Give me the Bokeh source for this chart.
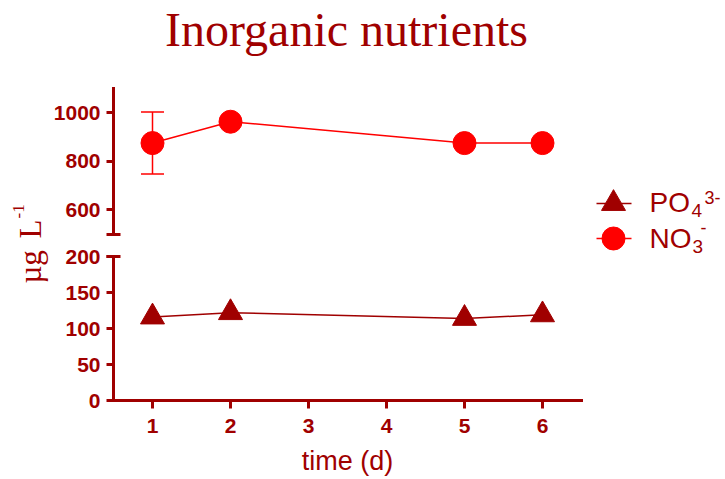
from math import pi
from bokeh.plotting import figure
from bokeh.models import (Range1d, LinearAxis, FixedTicker, Label, Whisker,
                          TeeHead, ColumnDataSource)
from bokeh.embed import file_html
from bokeh.resources import INLINE

# ---------------- data ----------------
days = [1, 2, 5, 6]
no3 = [875, 963, 875, 875]          # NO3- (upper axis segment)
no3_sd = [128, 0, 0, 0]             # error bar (only day 1 visible)
po4 = [116, 122, 114, 119]          # PO4 3- (lower axis segment)
x_ticks = [1, 2, 3, 4, 5, 6]
low_ticks = [0, 50, 100, 150, 200]
up_ticks = [600, 800, 1000]
low_seg = (0, 200)
up_seg = (500, 1100)
title_text = "Inorganic nutrients"
xlabel_text = "time (d)"

DARK = "#A00000"
RED = "#FF0000"

# ---------------- layout constants (canvas pixels) ----------------
W, H = 724, 478
FL = 113                 # pixel of x = 0.5 (axis line)
FB = 400                 # pixel of lower value 0
UP_TOP = 88              # pixel of upper value 1100
X0, XPX = 0.5, 78.0      # x start, px per day
LOWPX, UPPX = 0.72, 0.2425   # px per unit, lower / upper segment
BASE_FIX = 0.355         # label baseline correction (em)

# the frame covers the whole canvas; axes sit at fixed locations inside it
x_range = Range1d(X0 - FL / XPX, X0 + (W - FL) / XPX)
y_range = Range1d(-(H - FB) / LOWPX, FB / LOWPX)
up_range = Range1d(up_seg[1] - (H - UP_TOP) / UPPX, up_seg[1] + UP_TOP / UPPX)


def dx(px):
    return X0 + (px - FL) / XPX


def dy(py):
    return (FB - py) / LOWPX


p = figure(width=W, height=H, x_range=x_range, y_range=y_range,
           output_backend="svg", toolbar_location=None,
           min_border=0, min_border_left=0, min_border_right=0,
           min_border_top=0, min_border_bottom=0, outline_line_color=None,
           background_fill_color="white", border_fill_color="white")
p.extra_y_ranges = {"upper": up_range}
p.grid.visible = False

ax_low = p.yaxis[0]
ax_low.ticker = FixedTicker(ticks=low_ticks, minor_ticks=[low_seg[1]])
ax_low.bounds = low_seg
ax_low.fixed_location = X0

ax_up = LinearAxis(y_range_name="upper", fixed_location=X0, bounds=up_seg,
                   ticker=FixedTicker(ticks=up_ticks, minor_ticks=[up_seg[0]]))
p.add_layout(ax_up, "left")

ax_x = p.xaxis[0]
ax_x.ticker = FixedTicker(ticks=x_ticks)
ax_x.bounds = (X0, max(x_ticks) + 0.5)
ax_x.fixed_location = low_seg[0]

for ax in (ax_low, ax_up, ax_x):
    ax.axis_line_color = DARK
    ax.axis_line_width = 3
    ax.axis_line_cap = "square"
    ax.major_tick_line_color = DARK
    ax.major_tick_line_width = 3
    ax.major_tick_in = 0
    ax.major_tick_out = 7
    ax.minor_tick_line_color = DARK
    ax.minor_tick_line_width = 3
    ax.minor_tick_in = 7
    ax.minor_tick_out = 7
    ax.major_label_text_font = "Liberation Sans"
    ax.major_label_text_font_style = "bold"
    ax.major_label_text_font_size = "21px"
    ax.major_label_text_color = DARK
    ax.major_label_standoff = 6
ax_x.major_tick_out = 8
ax_x.minor_tick_line_color = None
ax_x.major_label_standoff = 10

# ---------------- series ----------------
p.line(days, po4, line_color=DARK, line_width=1.5)
p.scatter(days, po4, marker="triangle", size=24, fill_color=DARK, line_color=DARK)

p.line(days, no3, y_range_name="upper", line_color=RED, line_width=1.5)
err = ColumnDataSource(dict(
    x=[d for d, s in zip(days, no3_sd) if s > 0],
    upper=[v + s for v, s in zip(no3, no3_sd) if s > 0],
    lower=[v - s for v, s in zip(no3, no3_sd) if s > 0]))
wh = Whisker(source=err, base="x", upper="upper", lower="lower",
             y_range_name="upper", line_color=RED, line_width=1.5,
             upper_head=TeeHead(size=23, line_color=RED, line_width=1.5),
             lower_head=TeeHead(size=23, line_color=RED, line_width=1.5))
p.add_layout(wh)
p.scatter(days, no3, y_range_name="upper", marker="circle", size=23,
          fill_color=RED, line_color=RED)

# ---------------- legend ----------------
leg_line = (596, 631)
leg_mk = 613
rows = [203, 238]
p.line([dx(leg_line[0]), dx(leg_line[1])], [dy(rows[0])] * 2, line_color=DARK, line_width=1.5)
p.scatter([dx(leg_mk)], [dy(rows[0])], marker="triangle", size=24, fill_color=DARK, line_color=DARK)
p.line([dx(leg_line[0]), dx(leg_line[1])], [dy(rows[1])] * 2, line_color=RED, line_width=1.5)
p.scatter([dx(leg_mk)], [dy(rows[1])], marker="circle", size=23, fill_color=RED, line_color=RED)


def lab(text, px, py, size, font="Liberation Sans", align="left", angle=0.0):
    fix = BASE_FIX * size
    if angle:
        px -= fix
    else:
        py -= fix
    p.add_layout(Label(x=dx(px), y=dy(py), text=text, text_align=align,
                       text_baseline="alphabetic", text_font=font,
                       text_font_size=f"{size}px", text_color=DARK, angle=angle))


lab("PO", 649, 212, 28)
lab("4", 691, 217, 19)
lab("3-", 704, 203, 18)
lab("NO", 649, 248, 28)
lab("3", 692, 253, 19)
lab("-", 700, 233, 18)

# ---------------- titles ----------------
lab(title_text, 346, 46, 48, font="Liberation Serif", align="center")
lab(xlabel_text, 347, 470, 27, align="center")
lab("µg", 41, 283, 31, font="Liberation Serif", angle=pi / 2)
lab("L", 41, 238, 31, font="Liberation Serif", angle=pi / 2)
lab("-1", 24, 218, 17, font="Liberation Serif", angle=pi / 2)

open("out.html", "w").write(file_html(p, INLINE))
